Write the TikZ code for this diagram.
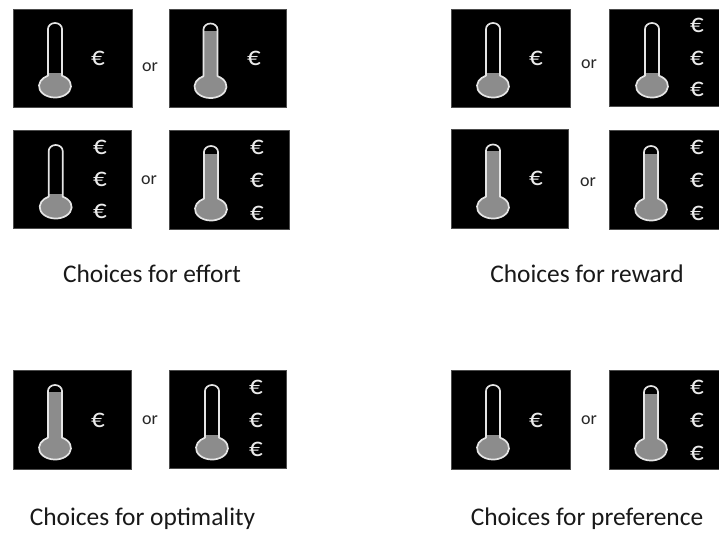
\documentclass[tikz,border=0pt]{standalone}
\usepackage{fontspec}
\setmainfont{Carlito}
\tikzset{
  panel/.style={fill=black,draw=black!70,line width=0.4pt},
  outlinepen/.style={draw=white!90!black,line width=1.7pt,line join=round},
  euro/.style={text=white!92!black,font=\fontsize{27}{27}\selectfont,inner sep=0pt},
  ortext/.style={text=black!85,font=\fontsize{18}{18}\selectfont,inner sep=0pt},
  caption/.style={text=black!90,font=\fontsize{25.4}{25.4}\selectfont,inner sep=0pt}
}
% #1 x1, #2 y1, #3 x2, #4 y2 in reference pixels
\newcommand{\panelbox}[4]{\path[panel] (#1,534-#2) rectangle (#3,534-#4);}
% outline of a thermometer: #1 centre x, #2 top y, #3 bulb y
\newcommand{\thermopath}[3]{(#1-7,534-#3+10.3) -- (#1-7,534-#2-6)
  arc[start angle=180,end angle=0,x radius=7,y radius=6]
  -- (#1+7,534-#3+10.3)
  arc[start angle=64,end angle=-244,x radius=16,y radius=11.5] -- cycle}
% #1 centre x, #2 top y, #3 bulb y, #4 level y
\newcommand{\thermo}[4]{%
  \begin{scope}
    \clip (#1-30,534-#4) rectangle (#1+30,534-#3-20);
    \fill[black!45] \thermopath{#1}{#2}{#3};
  \end{scope}
  \path[outlinepen] \thermopath{#1}{#2}{#3};}
\begin{document}
\begin{tikzpicture}[x=1pt,y=1pt]
\useasboundingbox[fill=white] (0,0) rectangle (719,534);
% panels
\panelbox{13}{9}{132}{107}
\panelbox{169}{9}{286}{107}
\panelbox{13}{130}{131}{228}
\panelbox{169}{130}{289}{229}
\panelbox{451}{9}{570}{107}
\panelbox{609}{9}{720}{106}
\panelbox{451}{129}{568}{228}
\panelbox{609}{130}{720}{229}
\panelbox{13}{370}{131}{469}
\panelbox{169}{370}{286}{468}
\panelbox{451}{370}{570}{469}
\panelbox{609}{370}{720}{469}
% thermometers
\thermo{55}{23}{86}{74}
\thermo{210.5}{23.5}{86.5}{32}
\thermo{55.7}{145}{207}{195}
\thermo{211}{146}{209}{155}
\thermo{493}{23}{86}{74}
\thermo{652}{23}{86}{74}
\thermo{493}{144.5}{207}{152}
\thermo{651}{146}{209}{155}
\thermo{55}{385}{448}{393}
\thermo{212}{385}{448}{436}
\thermo{493}{385}{448}{436}
\thermo{651}{386}{449}{395}
% euros
\foreach \n/\x/\y in {a/98/58,b/254/58,c/100/147,d/100/179,e/100/211,f/257/147,g/257/180,h/257/213,
  i/536/58,j/697/25,k/697/58,l/697/89,m/536/178,n/697/147,o/697/180,p/697/213,
  q/98/420,r/256/387,s/256/420,t/256/449,u/536/420,v/697/387,w/697/420,z/697/453}
  \node[euro] (eur\n) at (\x,534-\y) {€};
% or labels
\node[ortext] (or1) at (150,534-67) {or};
\node[ortext] (or2) at (149,534-180) {or};
\node[ortext] (or3) at (589,534-64) {or};
\node[ortext] (or4) at (588,534-182) {or};
\node[ortext] (or5) at (150,534-420) {or};
\node[ortext] (or6) at (589,534-420) {or};
% captions
\node[caption] (c1) at (152,534-274) {Choices for effort};
\node[caption] (c2) at (587,534-274) {Choices for reward};
\node[caption] (c3) at (142.5,534-519) {Choices for optimality};
\node[caption] (c4) at (587,534-519) {Choices for preference};
\end{tikzpicture}
\end{document}
